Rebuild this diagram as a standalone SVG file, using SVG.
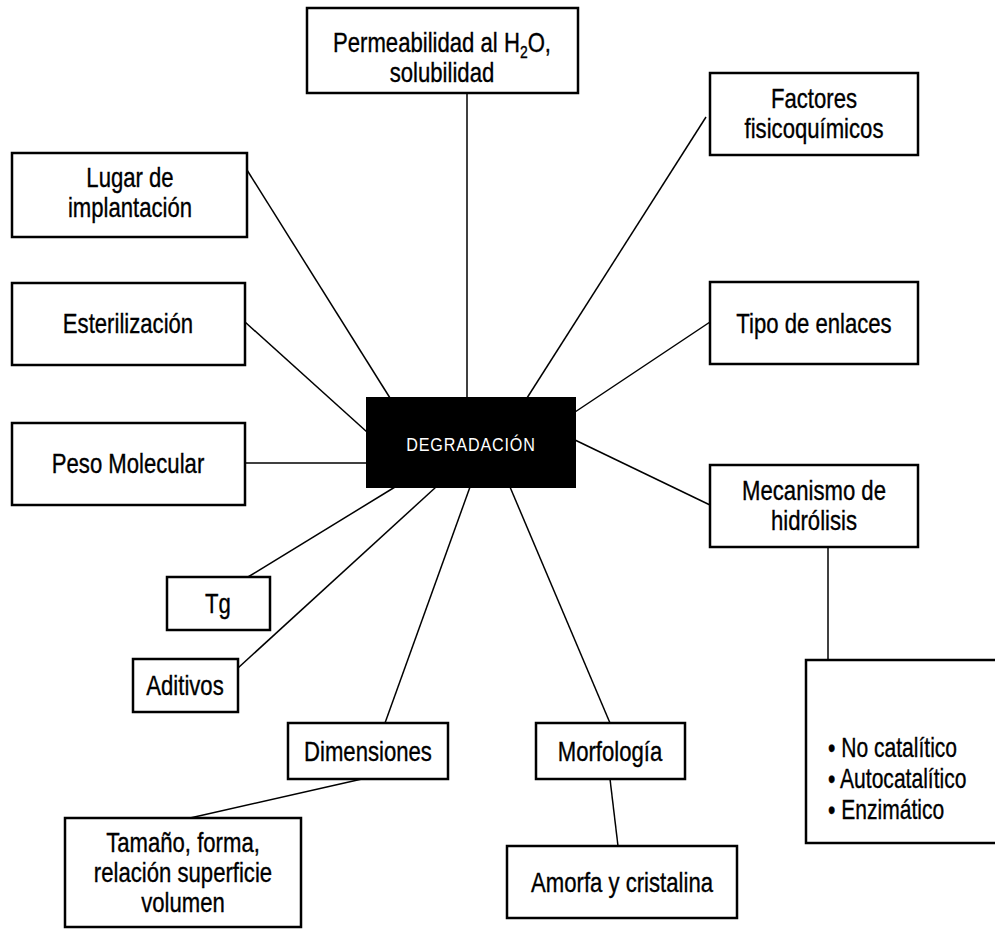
<svg xmlns="http://www.w3.org/2000/svg" width="995" height="929" viewBox="0 0 995 929">
<style>
.box{fill:#fff;stroke:#000;stroke-width:2.5}
.t{font-family:"Liberation Sans",Arial,sans-serif;font-size:27px;fill:#000;stroke:#000;stroke-width:0.35;text-anchor:middle}
.s{text-anchor:start}
.c line{stroke:#000;stroke-width:1.5}
</style>
<rect width="995" height="929" fill="#fff"/>
<g class="c">
<line x1="467" y1="93" x2="467" y2="398"/>
<line x1="706" y1="117" x2="527" y2="398"/>
<line x1="247" y1="170" x2="390" y2="398"/>
<line x1="245" y1="322" x2="367" y2="432"/>
<line x1="245" y1="463" x2="367" y2="463"/>
<line x1="710" y1="322" x2="575" y2="412"/>
<line x1="575" y1="440" x2="710" y2="505"/>
<line x1="828" y1="547" x2="828" y2="660"/>
<line x1="248" y1="577" x2="395" y2="487"/>
<line x1="238" y1="668" x2="436" y2="487"/>
<line x1="385" y1="723" x2="470" y2="487"/>
<line x1="610" y1="723" x2="510" y2="487"/>
<line x1="190" y1="818" x2="362" y2="779"/>
<line x1="610" y1="779" x2="618" y2="846"/>
</g>
<g id="center"><rect x="367" y="398" width="208" height="89" fill="#000" stroke="#000" stroke-width="2"/><text class="t" transform="translate(471,451) scale(0.85,1)" style="fill:#fff;stroke:none;font-size:19px;letter-spacing:1px">DEGRADACIÓN</text></g>
<g id="permeabilidad"><rect class="box" x="307" y="8" width="271" height="85"/><text class="t" transform="translate(442,52) scale(0.82,1)">Permeabilidad al H<tspan font-size="17" dy="6">2</tspan><tspan dy="-6">O,</tspan></text><text class="t" transform="translate(442,82) scale(0.82,1)">solubilidad</text></g>
<g id="factores"><rect class="box" x="710" y="73" width="208" height="82"/><text class="t" transform="translate(814,108) scale(0.82,1)">Factores</text><text class="t" transform="translate(814,138) scale(0.82,1)">fisicoquímicos</text></g>
<g id="lugar"><rect class="box" x="12" y="153" width="235" height="84"/><text class="t" transform="translate(130,187) scale(0.82,1)">Lugar de</text><text class="t" transform="translate(130,217) scale(0.82,1)">implantación</text></g>
<g id="esterilizacion"><rect class="box" x="12" y="283" width="233" height="82"/><text class="t" transform="translate(128,333) scale(0.82,1)">Esterilización</text></g>
<g id="peso"><rect class="box" x="12" y="423" width="233" height="82"/><text class="t" transform="translate(128,473) scale(0.82,1)">Peso Molecular</text></g>
<g id="tipo"><rect class="box" x="710" y="282" width="208" height="82"/><text class="t" transform="translate(814,333) scale(0.82,1)">Tipo de enlaces</text></g>
<g id="mecanismo"><rect class="box" x="710" y="465" width="208" height="82"/><text class="t" transform="translate(814,500) scale(0.82,1)">Mecanismo de</text><text class="t" transform="translate(814,530) scale(0.82,1)">hidrólisis</text></g>
<g id="tipos"><rect class="box" x="806" y="660" width="200" height="183"/><text class="t s" transform="translate(828,757) scale(0.78,1)">• No catalítico</text><text class="t s" transform="translate(828,788) scale(0.78,1)">• Autocatalítico</text><text class="t s" transform="translate(828,819) scale(0.78,1)">• Enzimático</text></g>
<g id="tg"><rect class="box" x="167" y="577" width="103" height="53"/><text class="t" transform="translate(218,613) scale(0.82,1)">Tg</text></g>
<g id="aditivos"><rect class="box" x="133" y="659" width="105" height="53"/><text class="t" transform="translate(185,695) scale(0.82,1)">Aditivos</text></g>
<g id="dimensiones"><rect class="box" x="288" y="723" width="160" height="56"/><text class="t" transform="translate(368,761) scale(0.82,1)">Dimensiones</text></g>
<g id="morfologia"><rect class="box" x="536" y="723" width="149" height="56"/><text class="t" transform="translate(610,761) scale(0.82,1)">Morfología</text></g>
<g id="tamano"><rect class="box" x="65" y="818" width="236" height="109"/><text class="t" transform="translate(183,852) scale(0.82,1)">Tamaño, forma,</text><text class="t" transform="translate(183,882) scale(0.82,1)">relación superficie</text><text class="t" transform="translate(183,912) scale(0.82,1)">volumen</text></g>
<g id="amorfa"><rect class="box" x="507" y="846" width="230" height="72"/><text class="t" transform="translate(622,892) scale(0.82,1)">Amorfa y cristalina</text></g>
</svg>
